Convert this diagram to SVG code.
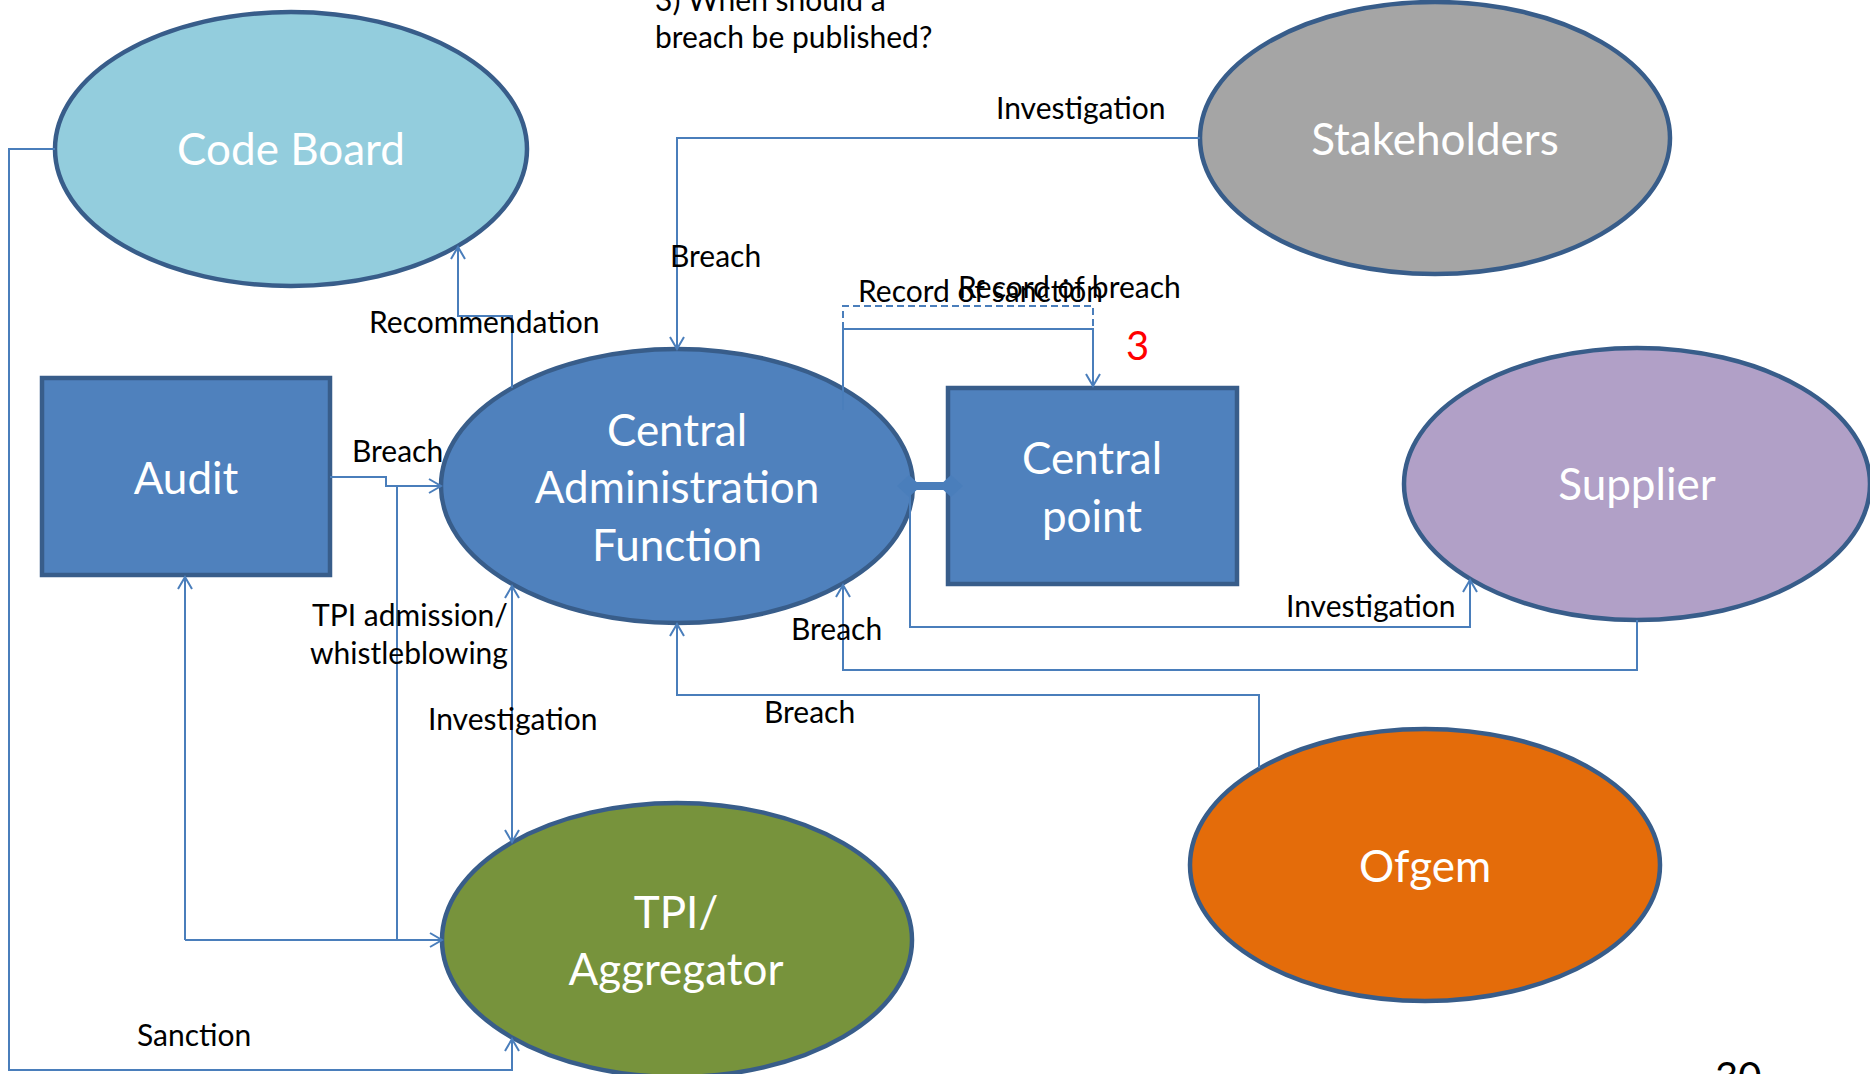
<svg xmlns="http://www.w3.org/2000/svg" width="1870" height="1074" viewBox="0 0 1870 1074">
<defs>
<style>
.node{stroke:#385D8A;stroke-width:4.5}
.nl{font-family:Lato,"Liberation Sans",sans-serif;font-size:44px;fill:#fff;text-anchor:middle}
.lb{font-family:Lato,"Liberation Sans",sans-serif;font-size:30px;fill:#000}
.c{fill:none;stroke:#4A7EBB;stroke-width:2}
.e{marker-end:url(#arr)}
.b{marker-start:url(#arr);marker-end:url(#arr)}
</style>
<marker id="arr" markerWidth="16" markerHeight="16" refX="14" refY="8" orient="auto-start-reverse" markerUnits="userSpaceOnUse">
<path d="M2,1 L14,8 L2,15" fill="none" stroke="#4A7EBB" stroke-width="2"/>
</marker>
<marker id="dia" markerWidth="24" markerHeight="24" refX="12" refY="12" orient="auto" markerUnits="userSpaceOnUse">
<path d="M0,12 L12,1 L24,12 L12,23 Z" fill="#4A7EBB"/>
</marker>
</defs>
<rect width="1870" height="1074" fill="#fff"/>
<g id="code-board"><ellipse class="node" cx="291" cy="149" rx="236" ry="137" fill="#93CDDD"/><text class="nl" x="291" y="165">Code Board</text></g>
<g id="stakeholders"><ellipse class="node" cx="1435" cy="138" rx="235" ry="136" fill="#A5A5A5"/><text class="nl" x="1435" y="155">Stakeholders</text></g>
<g id="caf"><ellipse class="node" cx="677" cy="486" rx="236" ry="137" fill="#4F81BD"/><text class="nl" x="677" y="446">Central</text><text class="nl" x="677" y="503">Administration</text><text class="nl" x="677" y="561">Function</text></g>
<g id="central-point"><rect class="node" x="948" y="388" width="289" height="196" fill="#4F81BD"/><text class="nl" x="1092" y="474">Central</text><text class="nl" x="1092" y="532">point</text></g>
<g id="audit"><rect class="node" x="42" y="378" width="288" height="197" fill="#4F81BD"/><text class="nl" x="186" y="494">Audit</text></g>
<g id="supplier"><ellipse class="node" cx="1637" cy="484" rx="233" ry="136" fill="#B1A0C7"/><text class="nl" x="1637" y="500">Supplier</text></g>
<g id="tpi"><ellipse class="node" cx="677" cy="940" rx="235" ry="137" fill="#77933C"/><text class="nl" x="676" y="928">TPI/</text><text class="nl" x="676" y="985">Aggregator</text></g>
<g id="ofgem"><ellipse class="node" cx="1425" cy="865" rx="235" ry="136" fill="#E46C0A"/><text class="nl" x="1425" y="882">Ofgem</text></g>
<g id="connectors">
<path class="c e" d="M1200,138 H677 V349"/>
<path class="c e" d="M512,388 V316 H458 V247"/>
<path class="c e" d="M843,410 V329 H1093 V386"/>
<path class="c" stroke-dasharray="7,4" d="M843,329 V306 H1093 V386"/>
<path d="M909,486 H951" stroke="#4A7EBB" stroke-width="8" marker-start="url(#dia)" marker-end="url(#dia)"/>
<path class="c e" d="M330,477 H386 V486 H441"/>
<path class="c" d="M397,486 V940"/>
<path class="c e" d="M185,940 H442"/>
<path class="c e" d="M185,940 V577"/>
<path class="c b" d="M512,586 V842"/>
<path class="c e" d="M55,149 H9 V1070 H512 V1039"/>
<path class="c e" d="M910,490 V627 H1470 V580"/>
<path class="c e" d="M1637,620 V670 H843 V585"/>
<path class="c e" d="M1259,768 V695 H677 V624"/>
</g>
<g id="labels">
<text class="lb" x="655" y="11">3) When should a</text>
<text class="lb" x="655" y="48">breach be published?</text>
<text class="lb" x="996" y="119">Investigation</text>
<text class="lb" x="670" y="267">Breach</text>
<text class="lb" x="369" y="333">Recommendation</text>
<text class="lb" x="858" y="302">Record of sanction</text>
<text class="lb" x="958" y="298">Record of breach</text>
<text x="1126" y="360" font-family="Lato,'Liberation Sans',sans-serif" font-size="40" fill="#FF0000">3</text>
<text class="lb" x="352" y="462">Breach</text>
<text class="lb" x="312" y="626">TPI admission/</text>
<text class="lb" x="310" y="664">whistleblowing</text>
<text class="lb" x="428" y="730">Investigation</text>
<text class="lb" x="791" y="640">Breach</text>
<text class="lb" x="1286" y="617">Investigation</text>
<text class="lb" x="764" y="723">Breach</text>
<text class="lb" x="137" y="1046">Sanction</text>
<text x="1715" y="1091" font-family="Lato,'Liberation Sans',sans-serif" font-size="40" fill="#000">30</text>
</g>
</svg>
